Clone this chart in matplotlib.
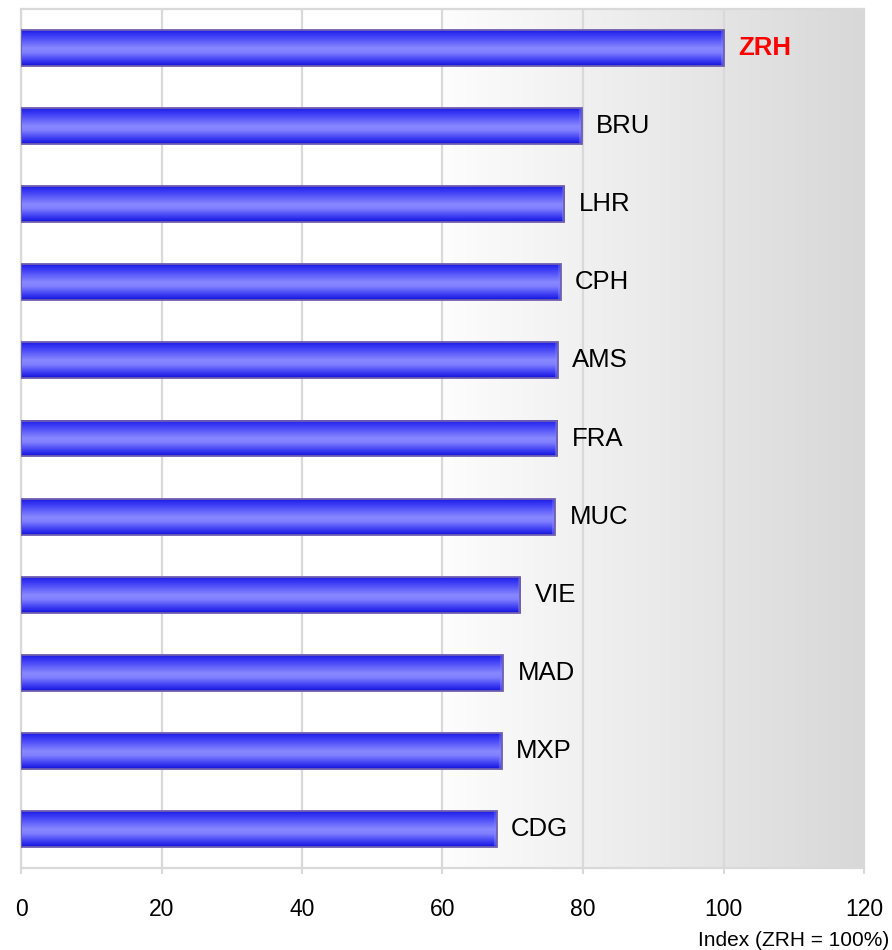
import matplotlib
matplotlib.use("Agg")
import matplotlib.pyplot as plt
import numpy as np
from matplotlib.colors import LinearSegmentedColormap

plt.rcParams["font.family"] = ["Liberation Sans", "DejaVu Sans"]

# airports, top to bottom, index relative to ZRH
airports = ["ZRH", "BRU", "LHR", "CPH", "AMS", "FRA", "MUC", "VIE", "MAD", "MXP", "CDG"]
index_values = [100.0, 79.8, 77.3, 76.8, 76.4, 76.3, 76.0, 71.1, 68.6, 68.4, 67.7]
xticks = [0, 20, 40, 60, 80, 100, 120]

grid_col = "#d9d9d9"
bar_h = 0.46

# vertical shading of the cylinder-like bars
bar_cmap = LinearSegmentedColormap.from_list(
    "cyl",
    [(0.0, "#1e1ee6"), (0.15, "#3c3cf6"), (0.5, "#8888ff"),
     (0.62, "#8080ff"), (0.88, "#3434f0"), (1.0, "#1414d8")],
)
bg_cmap = LinearSegmentedColormap.from_list("bg", ["#fdfdfd", "#d8d8d8"])

fig = plt.figure(figsize=(8.92, 9.5), dpi=100)
ax = fig.add_axes([21 / 892, 1 - 868 / 950, (864 - 21) / 892, (868 - 9) / 950])
ax.set_facecolor("white")

n = len(airports)
ypos = np.arange(n)

# grey wash on the right half of the plot area
bg = np.linspace(0, 1, 256).reshape(1, -1)
ax.imshow(bg, extent=(60, 120, n - 0.5, -0.5), aspect="auto", cmap=bg_cmap,
          zorder=0.2, interpolation="bilinear")

shade = np.linspace(0, 1, 64).reshape(-1, 1)
for y, v in zip(ypos, index_values):
    ax.imshow(shade, extent=(0, v, y + bar_h / 2, y - bar_h / 2), aspect="auto",
              cmap=bar_cmap, zorder=3, interpolation="bilinear")
    # darker end cap
    ax.imshow(shade, extent=(v - 0.35, v, y + bar_h / 2, y - bar_h / 2), aspect="auto",
              cmap=bar_cmap, zorder=3.1, interpolation="bilinear", alpha=0.6,
              vmin=-0.6, vmax=1.6)
ax.barh(ypos, index_values, height=bar_h, facecolor="none",
        edgecolor="#6f5fb0", linewidth=1.3, zorder=4)

for y, v, name in zip(ypos, index_values, airports):
    is_ref = name == "ZRH"
    ax.annotate(name, (v, y), xytext=(10.5, 0), textcoords="offset points",
                va="center", ha="left", fontsize=18.5,
                color="#ff0000" if is_ref else "black",
                fontweight="bold" if is_ref else "normal", zorder=5)

ax.set_xlim(0, 120)
ax.set_ylim(n - 0.5, -0.5)
ax.set_xticks(xticks)
ax.set_yticks([])
ax.set_axisbelow(True)
ax.grid(axis="x", color=grid_col, linewidth=1.6)
for sp in ax.spines.values():
    sp.set_color(grid_col)
    sp.set_linewidth(1.6)
ax.tick_params(axis="x", length=4.5, width=1.5, color=grid_col, pad=17,
               labelsize=16.5, labelcolor="black")

fig.text(889 / 892, 1 - 940 / 950, "Index (ZRH = 100%)", ha="right", va="center",
         fontsize=15)

fig.savefig("out.png", dpi=100)
